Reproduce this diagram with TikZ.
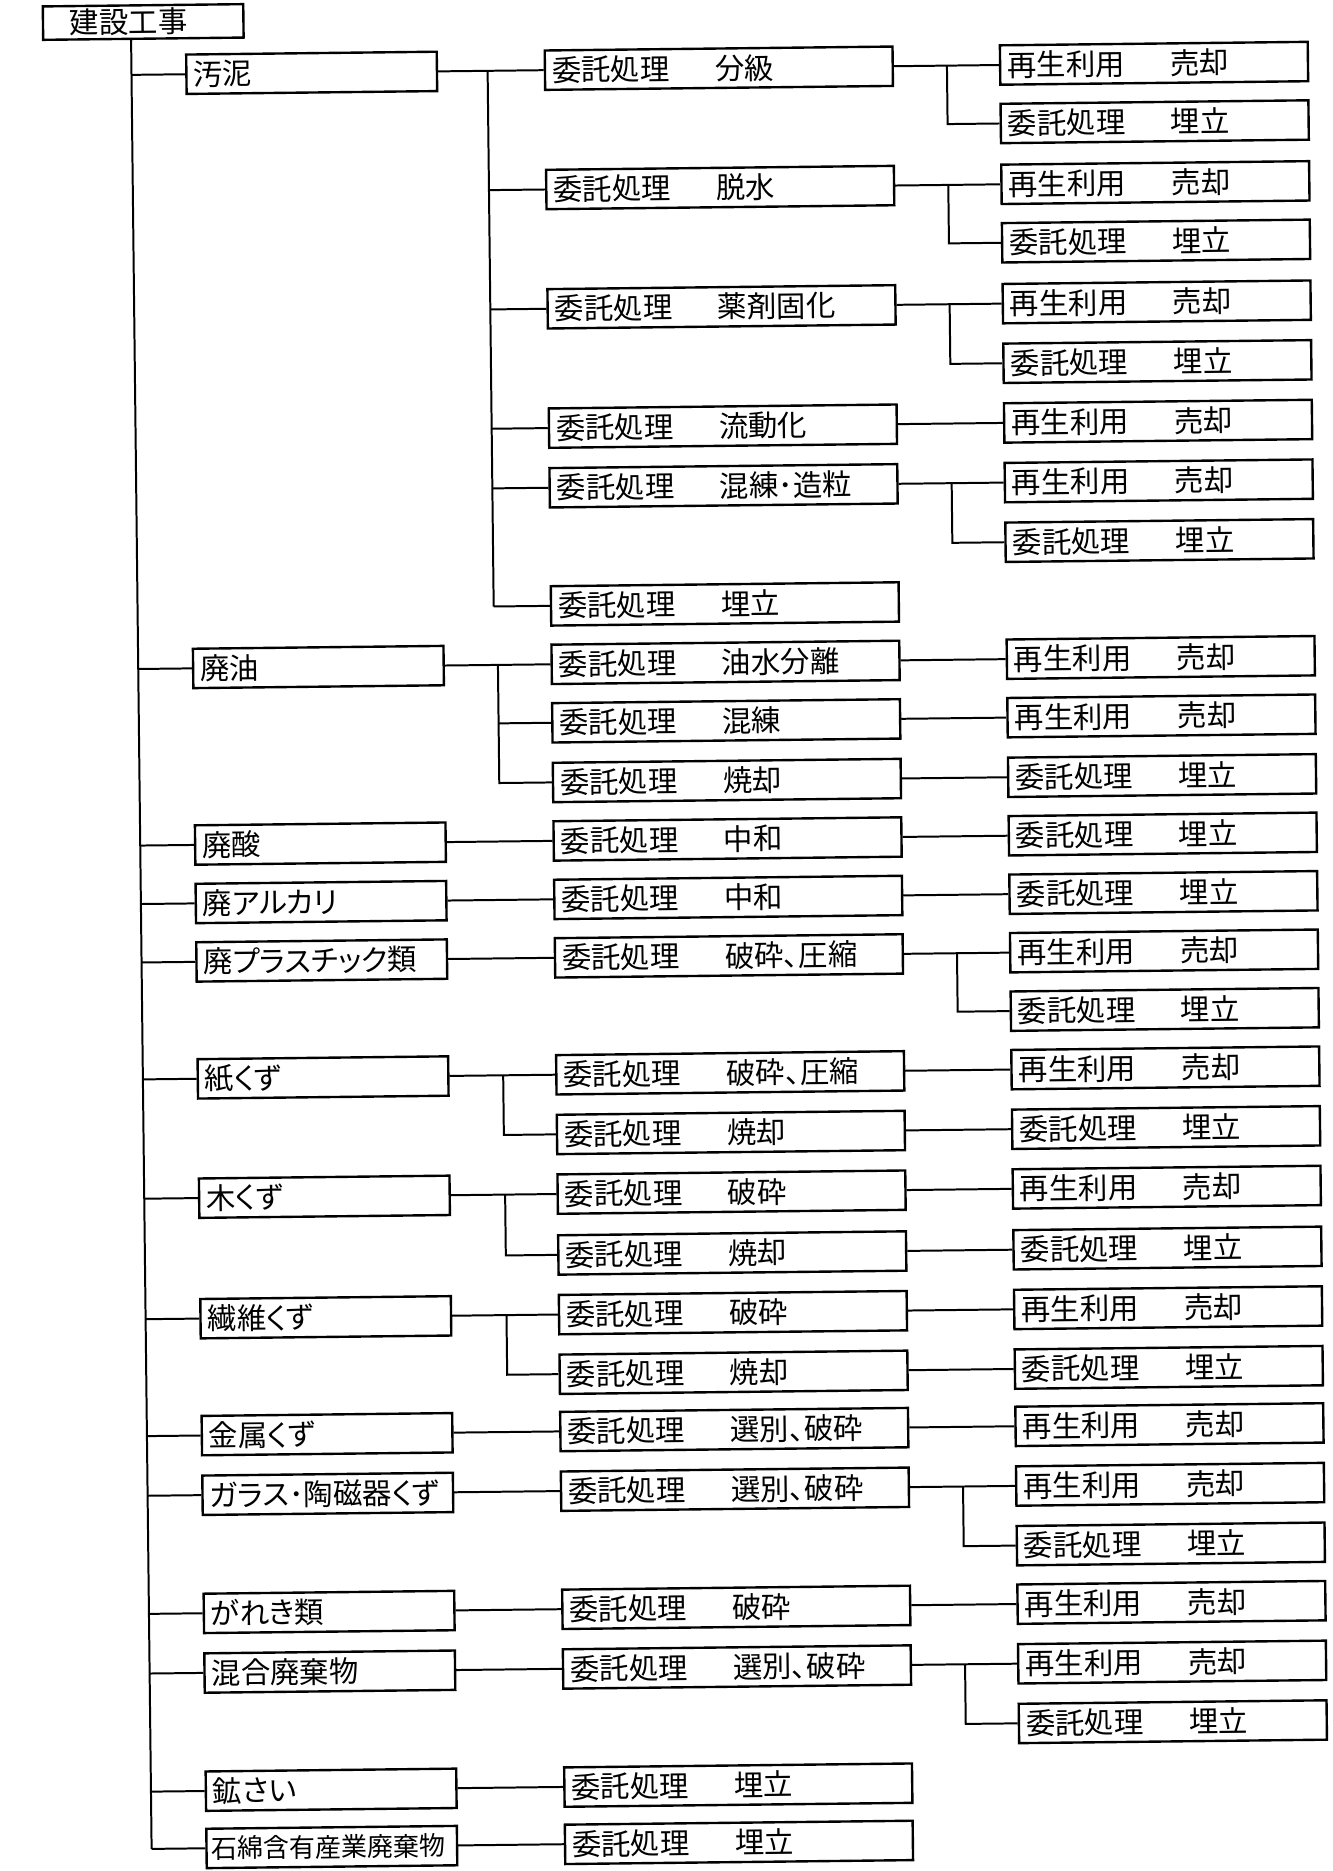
\documentclass[tikz,border=0pt]{standalone}
\usepackage{fontspec}
\newfontfamily\jp[RawFeature=+palt]{Noto Sans CJK JP}
\usetikzlibrary{calc}
\newcommand\jpf{\jp\fontsize{14.8pt}{17pt}\selectfont}
\newcommand\jps{\jp\fontsize{13.1pt}{16pt}\selectfont}
\newcommand\tw[2]{\makebox[82pt][l]{#1}#2}
\begin{document}
\begin{tikzpicture}[x=0.6pt,y=-0.6pt,
  box/.style={draw, line width=1.2pt, anchor=west, minimum height=19.8pt,
    inner xsep=3.5pt, inner ysep=0pt, align=left, font=\jpf},
  catbox/.style={box, text width=119pt},
  procbox/.style={box, text width=167.9pt},
  resbox/.style={box, text width=147.8pt},
  link/.style={line width=1pt}]
\useasboundingbox (0,0) rectangle (1117,1568);
\begin{scope}[rotate=0.65, transform shape]
% root
\node[box, minimum height=16.8pt, text width=93.8pt] (root) at (34.8,19.8) {\hspace*{10pt}建設工事};
% categories
\node[catbox] (c1) at (154.5,64) {汚泥};
\node[catbox] (c2) at (154.5,562) {廃油};
\node[catbox] (c3) at (154.5,710) {廃酸};
\node[catbox] (c4) at (154.5,759) {廃アルカリ};
\node[catbox] (c5) at (154.5,808) {廃プラスチック類};
\node[catbox] (c6) at (154.5,906) {紙くず};
\node[catbox] (c7) at (154.5,1006) {木くず};
\node[catbox] (c8) at (154.5,1107) {繊維くず};
\node[catbox] (c9) at (154.5,1205) {金属くず};
\node[catbox] (c10) at (154.5,1255) {ガラス･陶磁器くず};
\node[catbox] (c11) at (154.5,1354) {がれき類};
\node[catbox] (c12) at (154.5,1404) {混合廃棄物};
\node[catbox] (c13) at (154.5,1503) {鉱さい};
\node[catbox, font=\jps, inner xsep=2.5pt, text width=121pt] (c14) at (154.5,1551) {石綿含有産業廃棄物};
% processes
\node[procbox] (p1) at (455,64) {\tw{委託処理}{分級}};
\node[procbox] (p2) at (455,164) {\tw{委託処理}{脱水}};
\node[procbox] (p3) at (455,264) {\tw{委託処理}{薬剤固化}};
\node[procbox] (p4) at (455,364) {\tw{委託処理}{流動化}};
\node[procbox] (p5) at (455,414) {\tw{委託処理}{混練･造粒}};
\node[procbox] (p6) at (455,513) {\tw{委託処理}{埋立}};
\node[procbox] (p7) at (455,562) {\tw{委託処理}{油水分離}};
\node[procbox] (p8) at (455,611) {\tw{委託処理}{混練}};
\node[procbox] (p9) at (455,661) {\tw{委託処理}{焼却}};
\node[procbox] (p10) at (455,710) {\tw{委託処理}{中和}};
\node[procbox] (p11) at (455,759) {\tw{委託処理}{中和}};
\node[procbox] (p12) at (455,808) {\tw{委託処理}{破砕、圧縮}};
\node[procbox] (p13) at (455,906) {\tw{委託処理}{破砕、圧縮}};
\node[procbox] (p14) at (455,956) {\tw{委託処理}{焼却}};
\node[procbox] (p15) at (455,1006) {\tw{委託処理}{破砕}};
\node[procbox] (p16) at (455,1057) {\tw{委託処理}{焼却}};
\node[procbox] (p17) at (455,1107) {\tw{委託処理}{破砕}};
\node[procbox] (p18) at (455,1157) {\tw{委託処理}{焼却}};
\node[procbox] (p19) at (455,1205) {\tw{委託処理}{選別、破砕}};
\node[procbox] (p20) at (455,1255) {\tw{委託処理}{選別、破砕}};
\node[procbox] (p21) at (455,1354) {\tw{委託処理}{破砕}};
\node[procbox] (p22) at (455,1404) {\tw{委託処理}{選別、破砕}};
\node[procbox] (p23) at (455,1503) {\tw{委託処理}{埋立}};
\node[procbox] (p24) at (455,1551) {\tw{委託処理}{埋立}};
% results
\node[resbox] (r1) at (836.5,64) {\tw{再生利用}{売却}};
\node[resbox] (r2) at (836.5,113) {\tw{委託処理}{埋立}};
\node[resbox] (r3) at (836.5,164) {\tw{再生利用}{売却}};
\node[resbox] (r4) at (836.5,213) {\tw{委託処理}{埋立}};
\node[resbox] (r5) at (836.5,264) {\tw{再生利用}{売却}};
\node[resbox] (r6) at (836.5,314) {\tw{委託処理}{埋立}};
\node[resbox] (r7) at (836.5,364) {\tw{再生利用}{売却}};
\node[resbox] (r8) at (836.5,414) {\tw{再生利用}{売却}};
\node[resbox] (r9) at (836.5,464) {\tw{委託処理}{埋立}};
\node[resbox] (r10) at (836.5,562) {\tw{再生利用}{売却}};
\node[resbox] (r11) at (836.5,611) {\tw{再生利用}{売却}};
\node[resbox] (r12) at (836.5,661) {\tw{委託処理}{埋立}};
\node[resbox] (r13) at (836.5,710) {\tw{委託処理}{埋立}};
\node[resbox] (r14) at (836.5,759) {\tw{委託処理}{埋立}};
\node[resbox] (r15) at (836.5,808) {\tw{再生利用}{売却}};
\node[resbox] (r16) at (836.5,857) {\tw{委託処理}{埋立}};
\node[resbox] (r17) at (836.5,906) {\tw{再生利用}{売却}};
\node[resbox] (r18) at (836.5,956) {\tw{委託処理}{埋立}};
\node[resbox] (r19) at (836.5,1006) {\tw{再生利用}{売却}};
\node[resbox] (r20) at (836.5,1057) {\tw{委託処理}{埋立}};
\node[resbox] (r21) at (836.5,1107) {\tw{再生利用}{売却}};
\node[resbox] (r22) at (836.5,1157) {\tw{委託処理}{埋立}};
\node[resbox] (r23) at (836.5,1205) {\tw{再生利用}{売却}};
\node[resbox] (r24) at (836.5,1255) {\tw{再生利用}{売却}};
\node[resbox] (r25) at (836.5,1305) {\tw{委託処理}{埋立}};
\node[resbox] (r26) at (836.5,1354) {\tw{再生利用}{売却}};
\node[resbox] (r27) at (836.5,1404) {\tw{再生利用}{売却}};
\node[resbox] (r28) at (836.5,1454) {\tw{委託処理}{埋立}};
% trunk
\coordinate (T) at (109.5,0);
\draw[link] (root.south -| T) -- (T |- c14.west);
\foreach \c in {c1,c2,c3,c4,c5,c6,c7,c8,c9,c10,c11,c12,c13,c14}
  \draw[link] (\c.west -| T) -- (\c.west);
% category -> process
\coordinate (Va) at (408,0);
\coordinate (Vb) at (411,0);
\coordinate (Vc) at (411.5,0);
\coordinate (Vd) at (412,0);
\draw[link] (c1.east) -- (p1.west);
\draw[link] (p1.west -| Va) -- (p6.west -| Va);
\foreach \p in {p2,p3,p4,p5,p6} \draw[link] (\p.west -| Va) -- (\p.west);
\draw[link] (c2.east) -- (p7.west);
\draw[link] (p7.west -| Vb) |- (p9.west);
\draw[link] (p8.west -| Vb) -- (p8.west);
\draw[link] (c3.east) -- (p10.west);
\draw[link] (c4.east) -- (p11.west);
\draw[link] (c5.east) -- (p12.west);
\draw[link] (c6.east) -- (p13.west);
\draw[link] (p13.west -| Vc) |- (p14.west);
\draw[link] (c7.east) -- (p15.west);
\draw[link] (p15.west -| Vd) |- (p16.west);
\draw[link] (c8.east) -- (p17.west);
\draw[link] (p17.west -| Vd) |- (p18.west);
\draw[link] (c9.east) -- (p19.west);
\draw[link] (c10.east) -- (p20.west);
\draw[link] (c11.east) -- (p21.west);
\draw[link] (c12.east) -- (p22.west);
\draw[link] (c13.east) -- (p23.west);
\draw[link] (c14.east) -- (p24.west);
% process -> result
\coordinate (W) at (793,0);
\draw[link] (p1.east) -- (r1.west);  \draw[link] (p1.east -| W) |- (r2.west);
\draw[link] (p2.east) -- (r3.west);  \draw[link] (p2.east -| W) |- (r4.west);
\draw[link] (p3.east) -- (r5.west);  \draw[link] (p3.east -| W) |- (r6.west);
\draw[link] (p4.east) -- (r7.west);
\draw[link] (p5.east) -- (r8.west);  \draw[link] (p5.east -| W) |- (r9.west);
\draw[link] (p7.east) -- (r10.west);
\draw[link] (p8.east) -- (r11.west);
\draw[link] (p9.east) -- (r12.west);
\draw[link] (p10.east) -- (r13.west);
\draw[link] (p11.east) -- (r14.west);
\draw[link] (p12.east) -- (r15.west); \draw[link] (p12.east -| W) |- (r16.west);
\draw[link] (p13.east) -- (r17.west);
\draw[link] (p14.east) -- (r18.west);
\draw[link] (p15.east) -- (r19.west);
\draw[link] (p16.east) -- (r20.west);
\draw[link] (p17.east) -- (r21.west);
\draw[link] (p18.east) -- (r22.west);
\draw[link] (p19.east) -- (r23.west);
\draw[link] (p20.east) -- (r24.west); \draw[link] (p20.east -| W) |- (r25.west);
\draw[link] (p21.east) -- (r26.west);
\draw[link] (p22.east) -- (r27.west); \draw[link] (p22.east -| W) |- (r28.west);
\end{scope}
\end{tikzpicture}
\end{document}
